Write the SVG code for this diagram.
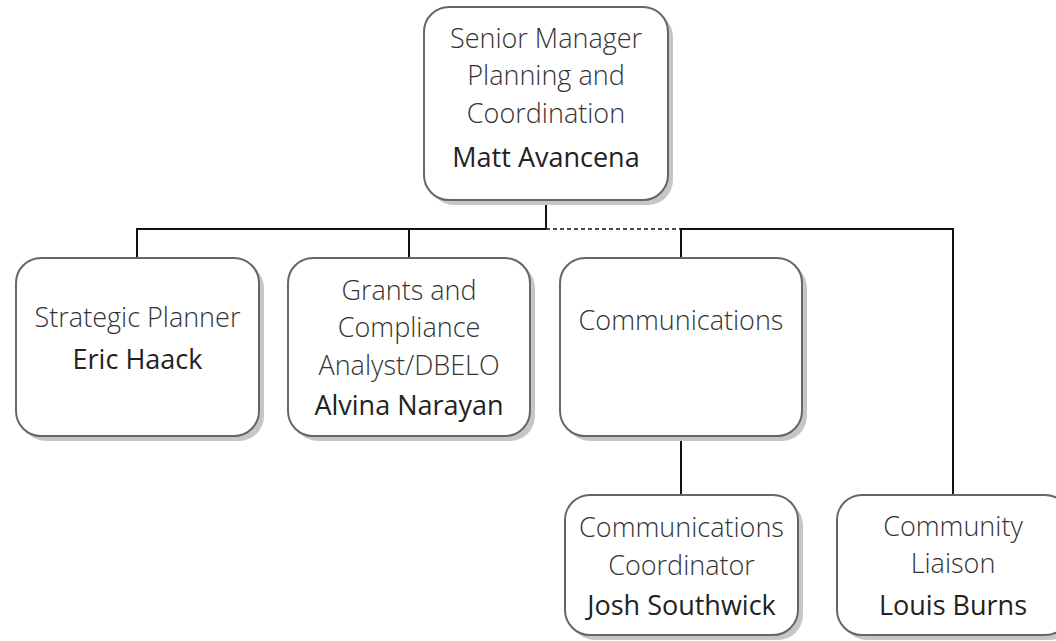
<svg xmlns="http://www.w3.org/2000/svg" width="1056" height="641" viewBox="0 0 1056 641">
<style>
.box{fill:#fff;stroke:#666;stroke-width:2}
.sh{fill:#c6c6c6}
.t{font-family:"Open Sans","Liberation Sans",sans-serif;font-weight:300;font-size:27px;fill:#333;text-anchor:middle}
.n{font-family:"Open Sans","Liberation Sans",sans-serif;font-weight:400;font-size:27px;fill:#222;text-anchor:middle}
.c{fill:none;stroke:#111;stroke-width:2}
.d{fill:none;stroke:#111;stroke-width:1.6;stroke-dasharray:4 3}
</style>
<rect width="1056" height="641" fill="#fff"/>
<g id="connectors">
<path class="c" d="M546 200V229M137 258V229H546M681 258V229H953V495M409 229V258M681 437V495"/>
<path class="d" d="M546 229H681"/>
</g>
<g id="n-senior">
<rect class="sh" x="429" y="12" width="244" height="193" rx="25"/>
<rect class="box" x="424" y="7" width="244" height="193" rx="25"/>
<text class="t" x="546" y="48">Senior Manager</text>
<text class="t" x="546" y="85">Planning and</text>
<text class="t" x="546" y="123">Coordination</text>
<text class="n" x="546" y="167">Matt Avancena</text>
</g>
<g id="n-strategic">
<rect class="sh" x="21" y="263" width="243" height="178" rx="25"/>
<rect class="box" x="16" y="258" width="243" height="178" rx="25"/>
<text class="t" x="137.5" y="327">Strategic Planner</text>
<text class="n" x="137.5" y="369">Eric Haack</text>
</g>
<g id="n-grants">
<rect class="sh" x="293" y="263" width="242" height="178" rx="25"/>
<rect class="box" x="288" y="258" width="242" height="178" rx="25"/>
<text class="t" x="409" y="300">Grants and</text>
<text class="t" x="409" y="337">Compliance</text>
<text class="t" x="409" y="375">Analyst/DBELO</text>
<text class="n" x="409" y="415">Alvina Narayan</text>
</g>
<g id="n-comm">
<rect class="sh" x="565" y="263" width="242" height="178" rx="25"/>
<rect class="box" x="560" y="258" width="242" height="178" rx="25"/>
<text class="t" x="681" y="330">Communications</text>
</g>
<g id="n-josh">
<rect class="sh" x="570" y="500" width="233" height="140" rx="25"/>
<rect class="box" x="565" y="495" width="233" height="140" rx="25"/>
<text class="t" x="681.5" y="537">Communications</text>
<text class="t" x="681.5" y="575">Coordinator</text>
<text class="n" x="681.5" y="615">Josh Southwick</text>
</g>
<g id="n-louis">
<rect class="sh" x="842" y="500" width="233" height="140" rx="25"/>
<rect class="box" x="837" y="495" width="233" height="140" rx="25"/>
<text class="t" x="953" y="536">Community</text>
<text class="t" x="953" y="573">Liaison</text>
<text class="n" x="953" y="615">Louis Burns</text>
</g>
</svg>
